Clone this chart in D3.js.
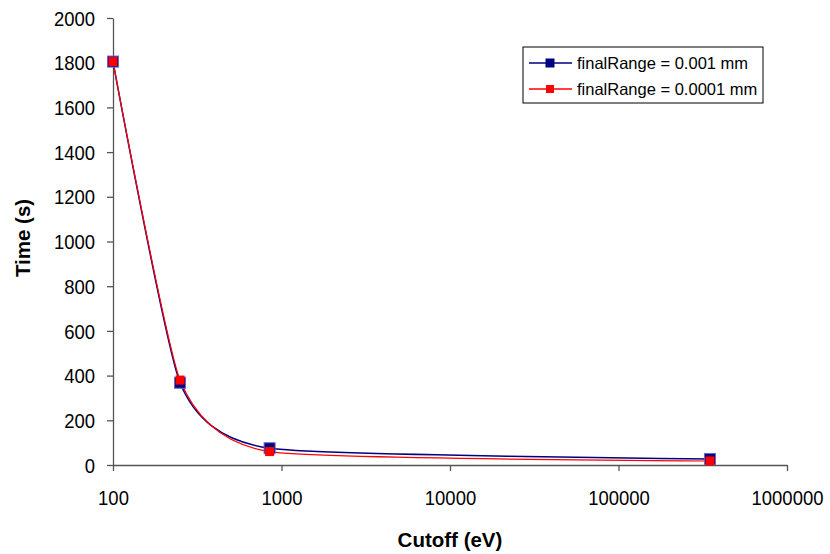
<!DOCTYPE html>
<html><head><meta charset="utf-8">
<script src="https://cdnjs.cloudflare.com/ajax/libs/d3/7.8.5/d3.min.js"></script>
<style>body{margin:0;background:#fff;} text{font-family:"Liberation Sans",Arial,sans-serif;}</style>
</head><body><svg id="c" width="830" height="554"></svg>
<script>
const cutoffs = [100, 250, 850, 349000];
const seriesNames = ["finalRange = 0.001 mm", "finalRange = 0.0001 mm"];
const timeFine = [1805, 368, 75, 27];
const timeFiner = [1805, 380, 60, 18];
const xTicks = [100, 1000, 10000, 100000, 1000000];
const yTicks = [0, 200, 400, 600, 800, 1000, 1200, 1400, 1600, 1800, 2000];
const colors = ["#000080", "#ff0000"];

const svg = d3.select("#c");
const L = 113, R = 787, T = 18, B = 465;
const x = d3.scaleLog().domain([100, 1000000]).range([L, R]);
const y = d3.scaleLinear().domain([0, 2000]).range([B, T]);
const sx = 0.88;

const xAxis = d3.axisBottom(x).tickValues(xTicks).tickFormat(d3.format("d")).tickSize(6).tickSizeOuter(0);
const gx = svg.append("g").attr("transform", `translate(0,${B})`).call(xAxis);
gx.selectAll("text").attr("font-size", 21).attr("y", 40).attr("dy", 0)
  .attr("transform", `scale(${sx},1)`).attr("fill", "#000");
const yAxis = d3.axisLeft(y).tickValues(yTicks).tickFormat(d3.format("d")).tickSize(6).tickSizeOuter(0);
const gy = svg.append("g").attr("transform", `translate(${L},0)`).call(yAxis);
gy.selectAll("text").attr("font-size", 21).attr("x", -18 / sx).attr("dy", "0.34em")
  .attr("transform", `scale(${sx},1)`).attr("fill", "#000");
svg.selectAll(".domain, .tick line").attr("stroke", "#555").attr("stroke-width", 1.3);

svg.append("text").attr("x", 450).attr("y", 547).attr("text-anchor", "middle")
  .attr("font-size", 20.5).attr("font-weight", "bold").text("Cutoff (eV)");
svg.append("text").attr("transform", `translate(30,238) rotate(-90)`).attr("text-anchor", "middle")
  .attr("font-size", 20.5).attr("font-weight", "bold").text("Time (s)");

const series = [timeFine, timeFiner];
const line = d3.line().x((d, i) => x(cutoffs[i])).y(d => y(d)).curve(d3.curveCardinal.tension(0.45));
series.forEach((s, k) => {
  svg.append("path").datum(s).attr("d", line).attr("fill", "none")
    .attr("stroke", colors[k]).attr("stroke-width", k === 0 ? 1.5 : 1.2);
});
series.forEach((s, k) => {
  const sz = k === 0 ? 11 : 9;
  svg.selectAll(null).data(s).enter().append("rect")
    .attr("x", (d, i) => x(cutoffs[i]) - sz / 2).attr("y", d => y(d) - sz / 2)
    .attr("width", sz).attr("height", sz).attr("fill", colors[k])
    .attr("stroke", k === 0 ? "#6666cc" : "none").attr("stroke-width", 1);
});

const lg = svg.append("g");
lg.append("rect").attr("x", 523).attr("y", 47).attr("width", 240).attr("height", 56)
  .attr("fill", "#fff").attr("stroke", "#000").attr("stroke-width", 1);
seriesNames.forEach((n, k) => {
  const cy = 63 + k * 26;
  lg.append("line").attr("x1", 529).attr("x2", 572).attr("y1", cy).attr("y2", cy)
    .attr("stroke", colors[k]).attr("stroke-width", 1.3);
  const sz = k === 0 ? 9 : 8;
  lg.append("rect").attr("x", 550 - sz / 2).attr("y", cy - sz / 2).attr("width", sz).attr("height", sz).attr("fill", colors[k]);
  lg.append("text").attr("x", 577).attr("y", cy + 6).attr("font-size", 16.5).text(n);
});
</script></body></html>
